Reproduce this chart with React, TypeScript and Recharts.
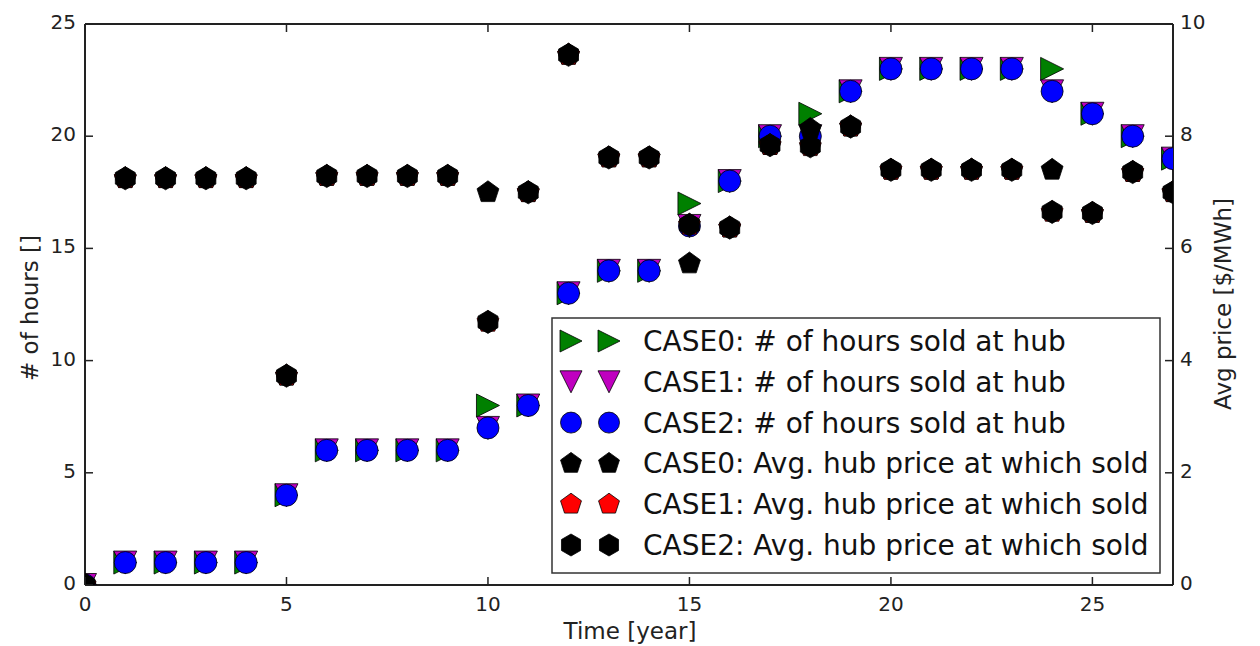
import React from 'react';
import { ScatterChart, Scatter, XAxis, YAxis, ReferenceLine } from 'recharts';

const YEARS = [0, 1, 2, 3, 4, 5, 6, 7, 8, 9, 10, 11, 12, 13, 14, 15, 16, 17, 18, 19, 20, 21, 22, 23, 24, 25, 26, 27];

const HOURS_CASE0 = [0, 1, 1, 1, 1, 4, 6, 6, 6, 6, 8, 8, 13, 14, 14, 17, 18, 20, 21, 22, 23, 23, 23, 23, 23, 21, 20, 19];
const HOURS_CASE1 = [0, 1, 1, 1, 1, 4, 6, 6, 6, 6, 7, 8, 13, 14, 14, 16, 18, 20, 20, 22, 23, 23, 23, 23, 22, 21, 20, 19];
const HOURS_CASE2 = [0, 1, 1, 1, 1, 4, 6, 6, 6, 6, 7, 8, 13, 14, 14, 16, 18, 20, 20, 22, 23, 23, 23, 23, 22, 21, 20, 19];

const PRICE_CASE0 = [0, 7.25, 7.25, 7.25, 7.25, 3.73, 7.29, 7.29, 7.29, 7.29, 7.0, 7.0, 9.45, 7.62, 7.62, 5.73, 6.37, 7.84, 8.13, 8.17, 7.4, 7.4, 7.4, 7.4, 7.4, 6.63, 7.36, 7.0];
const PRICE_CASE1 = [0, 7.25, 7.25, 7.25, 7.25, 3.73, 7.29, 7.29, 7.29, 7.29, 4.69, 7.0, 9.45, 7.62, 7.62, 6.42, 6.37, 7.84, 7.82, 8.17, 7.4, 7.4, 7.4, 7.4, 6.65, 6.63, 7.36, 7.0];
const PRICE_CASE2 = [0, 7.25, 7.25, 7.25, 7.25, 3.73, 7.29, 7.29, 7.29, 7.29, 4.69, 7.0, 9.45, 7.62, 7.62, 6.42, 6.37, 7.84, 7.82, 8.17, 7.4, 7.4, 7.4, 7.4, 6.65, 6.63, 7.36, 7.0];

const X_TICKS = [0, 5, 10, 15, 20, 25];
const HOURS_TICKS = [0, 5, 10, 15, 20, 25];
const PRICE_TICKS = [0, 2, 4, 6, 8, 10];

const LEGEND_LABELS = [
  'CASE0: # of hours sold at hub',
  'CASE1: # of hours sold at hub',
  'CASE2: # of hours sold at hub',
  'CASE0: Avg. hub price at which sold',
  'CASE1: Avg. hub price at which sold',
  'CASE2: Avg. hub price at which sold',
];

const FONT = '"DejaVu Sans", sans-serif';
const AXIS = '#222';
const PLOT_TOP = 24;
const PLOT_BOTTOM = 585;
const R = 11.5;

const regular = (n: number) =>
  Array.from({ length: n }, (_, k) => {
    const a = (-90 + (360 / n) * k) * (Math.PI / 180);
    return [Math.cos(a), Math.sin(a)];
  });

const SHAPES: Record<string, number[][]> = {
  triRight: [[1, 0], [-1, -1], [-1, 1]],
  triDown: [[0, 1], [-1, -1], [1, -1]],
  pentagon: regular(5),
  hexagon: regular(6),
};

const Glyph = ({ kind, fill, cx, cy, r = R }: any) => {
  if (kind === 'circle') {
    return <circle cx={cx} cy={cy} r={r - 0.5} fill={fill} stroke="#000" strokeWidth={0.8} />;
  }
  const pts = SHAPES[kind].map(([dx, dy]) => `${cx + dx * r},${cy + dy * r}`).join(' ');
  return <polygon points={pts} fill={fill} stroke="#000" strokeWidth={0.8} />;
};

const marker = (kind: string, fill: string) => (props: any) => {
  const { cx, cy } = props;
  if (cx == null || cy == null) return <g />;
  return <Glyph kind={kind} fill={fill} cx={cx} cy={cy} />;
};

const toPoints = (vals: number[]) => YEARS.map((x, i) => ({ x, y: vals[i] }));

const SERIES = [
  { name: LEGEND_LABELS[0], axis: 'hours', data: HOURS_CASE0, kind: 'triRight', fill: '#008000' },
  { name: LEGEND_LABELS[1], axis: 'hours', data: HOURS_CASE1, kind: 'triDown', fill: '#bf00bf' },
  { name: LEGEND_LABELS[2], axis: 'hours', data: HOURS_CASE2, kind: 'circle', fill: '#0000ff' },
  { name: LEGEND_LABELS[3], axis: 'price', data: PRICE_CASE0, kind: 'pentagon', fill: '#000000' },
  { name: LEGEND_LABELS[4], axis: 'price', data: PRICE_CASE1, kind: 'pentagon', fill: '#ff0000' },
  { name: LEGEND_LABELS[5], axis: 'price', data: PRICE_CASE2, kind: 'hexagon', fill: '#000000' },
];

// matplotlib-style ticks: pointing into the plot, mirrored on the top spine
const XTick = ({ x, y, payload }: any) => (
  <g>
    <line x1={x} x2={x} y1={y} y2={y - 8} stroke={AXIS} strokeWidth={1.5} />
    <line x1={x} x2={x} y1={PLOT_TOP} y2={PLOT_TOP + 8} stroke={AXIS} strokeWidth={1.5} />
    <text x={x} y={y + 26} textAnchor="middle" fontSize={20} fontFamily={FONT} fill="#222">
      {payload.value}
    </text>
  </g>
);

const LeftTick = ({ x, y, payload }: any) => (
  <g>
    <line x1={x} x2={x + 8} y1={y} y2={y} stroke={AXIS} strokeWidth={1.5} />
    <text x={x - 9} y={y - 2} dy="0.35em" textAnchor="end" fontSize={20} fontFamily={FONT} fill="#222">
      {payload.value}
    </text>
  </g>
);

const RightTick = ({ x, y, payload }: any) => (
  <g>
    <line x1={x} x2={x - 8} y1={y} y2={y} stroke={AXIS} strokeWidth={1.5} />
    <text x={x + 7} y={y - 2} dy="0.35em" textAnchor="start" fontSize={20} fontFamily={FONT} fill="#222">
      {payload.value}
    </text>
  </g>
);

const title = (text: string, x: number, y: number, rotate: boolean) => () => (
  <text
    x={x}
    y={y}
    textAnchor="middle"
    dominantBaseline="central"
    transform={rotate ? `rotate(-90 ${x} ${y})` : undefined}
    fontSize={23}
    fontFamily={FONT}
    fill="#222"
  >
    {text}
  </text>
);

const LegendBox = () => (
  <svg
    width={610}
    height={257}
    style={{ position: 'absolute', left: 551, top: 317 }}
  >
    <rect x={1} y={1} width={608} height={255} fill="#fff" stroke="#333" strokeWidth={1.5} />
    {SERIES.map((s, i) => {
      const cy = 24 + i * 40.8;
      return (
        <g key={s.name}>
          <Glyph kind={s.kind} fill={s.fill} cx={20} cy={cy} r={11} />
          <Glyph kind={s.kind} fill={s.fill} cx={58} cy={cy} r={11} />
          <text x={92} y={cy + 10} fontSize={28} fontFamily={FONT} fill="#111">
            {s.name}
          </text>
        </g>
      );
    })}
  </svg>
);

export default function App() {
  return (
    <div style={{ position: 'absolute', left: 0, top: 0, width: 1260, height: 646, background: '#fff' }}>
      <ScatterChart width={1260} height={646} margin={{ top: 24, right: 27, bottom: 21, left: 25 }}>
        <XAxis
          type="number"
          dataKey="x"
          domain={[0, 27]}
          ticks={X_TICKS}
          allowDataOverflow
          height={40}
          tickSize={0}
          tickMargin={0}
          tick={<XTick />}
          axisLine={{ stroke: AXIS, strokeWidth: 2 }}
          label={{ content: title('Time [year]', 630, 631, false) }}
        />
        <YAxis
          yAxisId="hours"
          type="number"
          dataKey="y"
          domain={[0, 25]}
          ticks={HOURS_TICKS}
          allowDataOverflow
          width={60}
          tickSize={0}
          tickMargin={0}
          tick={<LeftTick />}
          axisLine={{ stroke: AXIS, strokeWidth: 2 }}
          label={{ content: title('# of hours []', 30, 308, true) }}
        />
        <YAxis
          yAxisId="price"
          orientation="right"
          type="number"
          dataKey="y"
          domain={[0, 10]}
          ticks={PRICE_TICKS}
          allowDataOverflow
          width={60}
          tickSize={0}
          tickMargin={0}
          tick={<RightTick />}
          axisLine={{ stroke: AXIS, strokeWidth: 2 }}
          label={{ content: title('Avg price [$/MWh]', 1223, 304, true) }}
        />
        <ReferenceLine yAxisId="hours" y={25} stroke={AXIS} strokeWidth={2} ifOverflow="visible" />
        {SERIES.map((s) => (
          <Scatter
            key={s.name}
            name={s.name}
            yAxisId={s.axis}
            data={toPoints(s.data)}
            shape={marker(s.kind, s.fill)}
            isAnimationActive={false}
          />
        ))}
      </ScatterChart>
      <LegendBox />
    </div>
  );
}
